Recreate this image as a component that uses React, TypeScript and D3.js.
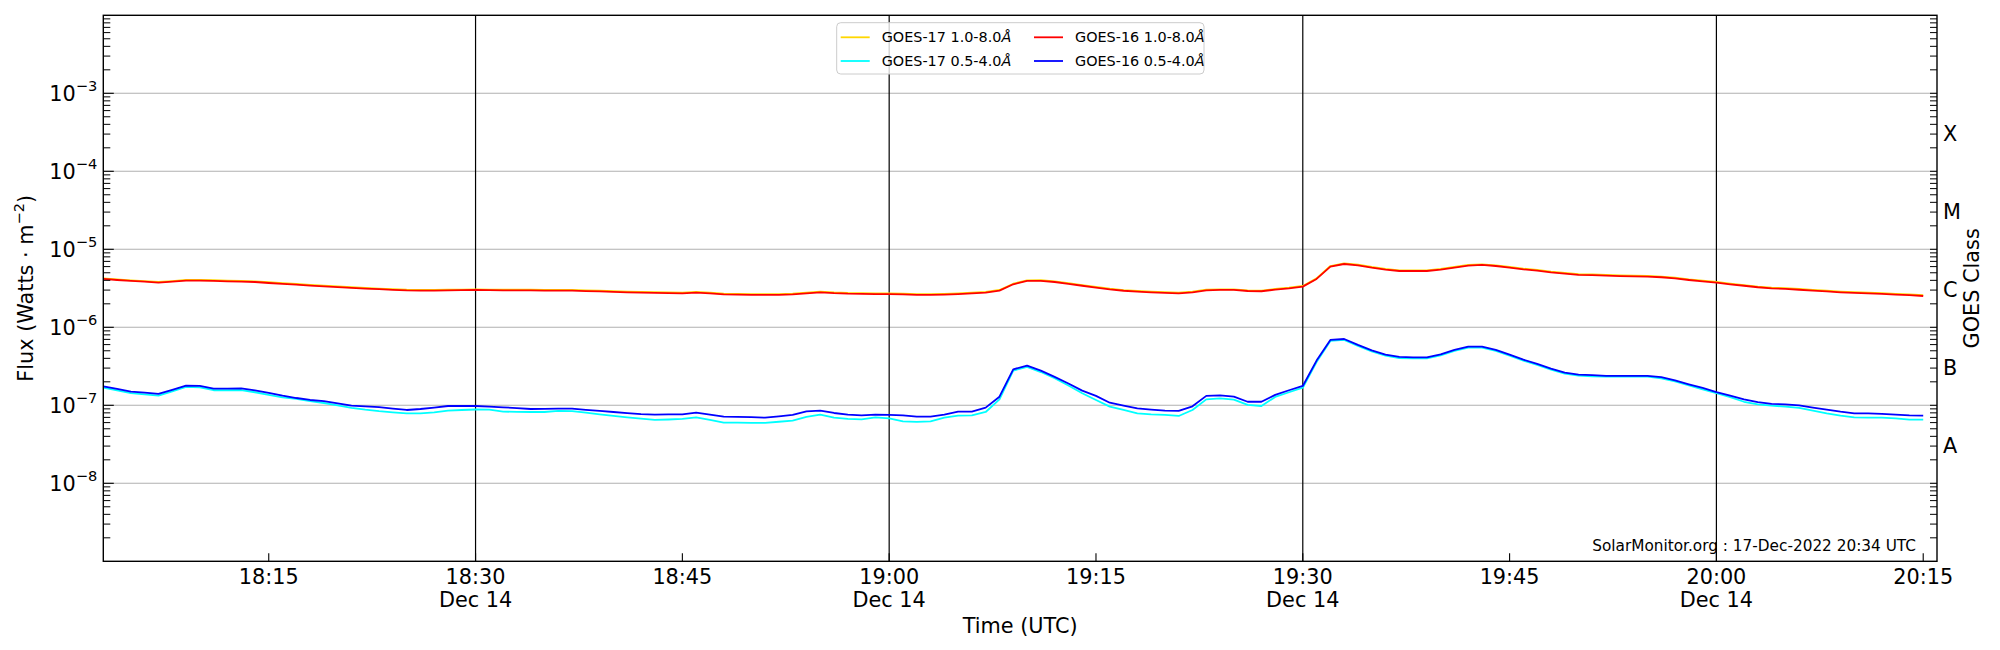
import React from "react";
import * as d3 from "d3";

// ---- data (1-minute cadence, 14 Dec 2022, starting 18:03 UTC) ----
const startTime = Date.UTC(2022, 11, 14, 18, 3);
const stepMinutes = 1;

// GOES-16 1.0-8.0 Å (W m^-2)
const goes16Long = [
  4.17e-6, 4.04e-6, 3.93e-6, 3.85e-6, 3.74e-6, 3.85e-6, 3.97e-6, 3.97e-6, 3.93e-6, 3.89e-6,
  3.85e-6, 3.81e-6, 3.70e-6, 3.61e-6, 3.52e-6, 3.43e-6, 3.35e-6, 3.27e-6, 3.20e-6, 3.13e-6,
  3.08e-6, 3.02e-6, 2.97e-6, 2.95e-6, 2.95e-6, 2.97e-6, 2.99e-6, 3.01e-6, 2.99e-6, 2.98e-6,
  2.97e-6, 2.97e-6, 2.96e-6, 2.96e-6, 2.95e-6, 2.91e-6, 2.88e-6, 2.84e-6, 2.81e-6, 2.78e-6,
  2.76e-6, 2.74e-6, 2.73e-6, 2.78e-6, 2.73e-6, 2.65e-6, 2.62e-6, 2.61e-6, 2.61e-6, 2.60e-6,
  2.64e-6, 2.73e-6, 2.81e-6, 2.74e-6, 2.70e-6, 2.69e-6, 2.67e-6, 2.67e-6, 2.65e-6, 2.61e-6,
  2.61e-6, 2.63e-6, 2.67e-6, 2.73e-6, 2.78e-6, 2.95e-6, 3.56e-6, 3.93e-6, 3.93e-6, 3.81e-6,
  3.61e-6, 3.41e-6, 3.23e-6, 3.06e-6, 2.94e-6, 2.86e-6, 2.80e-6, 2.76e-6, 2.73e-6, 2.81e-6,
  2.98e-6, 3.01e-6, 3.01e-6, 2.92e-6, 2.90e-6, 3.04e-6, 3.16e-6, 3.32e-6, 4.17e-6, 6.00e-6,
  6.48e-6, 6.24e-6, 5.82e-6, 5.49e-6, 5.27e-6, 5.27e-6, 5.27e-6, 5.49e-6, 5.82e-6, 6.18e-6,
  6.30e-6, 6.11e-6, 5.82e-6, 5.54e-6, 5.33e-6, 5.07e-6, 4.88e-6, 4.69e-6, 4.67e-6, 4.60e-6,
  4.53e-6, 4.49e-6, 4.46e-6, 4.38e-6, 4.23e-6, 4.04e-6, 3.89e-6, 3.74e-6, 3.56e-6, 3.41e-6,
  3.26e-6, 3.16e-6, 3.10e-6, 3.03e-6, 2.95e-6, 2.88e-6, 2.81e-6, 2.76e-6, 2.73e-6, 2.69e-6,
  2.63e-6, 2.59e-6, 2.52e-6,
];

// GOES-17 1.0-8.0 Å
const goes17Long = [
  4.25e-6, 4.11e-6, 4.00e-6, 3.92e-6, 3.81e-6, 3.92e-6, 4.05e-6, 4.04e-6, 4.01e-6, 3.97e-6,
  3.93e-6, 3.89e-6, 3.78e-6, 3.68e-6, 3.59e-6, 3.50e-6, 3.42e-6, 3.34e-6, 3.26e-6, 3.19e-6,
  3.14e-6, 3.08e-6, 3.03e-6, 3.01e-6, 3.01e-6, 3.03e-6, 3.05e-6, 3.07e-6, 3.05e-6, 3.04e-6,
  3.03e-6, 3.03e-6, 3.02e-6, 3.02e-6, 3.01e-6, 2.97e-6, 2.94e-6, 2.90e-6, 2.87e-6, 2.84e-6,
  2.82e-6, 2.80e-6, 2.79e-6, 2.84e-6, 2.79e-6, 2.71e-6, 2.68e-6, 2.67e-6, 2.67e-6, 2.66e-6,
  2.70e-6, 2.79e-6, 2.87e-6, 2.80e-6, 2.76e-6, 2.75e-6, 2.73e-6, 2.73e-6, 2.71e-6, 2.67e-6,
  2.67e-6, 2.69e-6, 2.73e-6, 2.79e-6, 2.84e-6, 3.01e-6, 3.62e-6, 4.00e-6, 4.01e-6, 3.89e-6,
  3.69e-6, 3.48e-6, 3.30e-6, 3.13e-6, 3.00e-6, 2.92e-6, 2.86e-6, 2.82e-6, 2.79e-6, 2.87e-6,
  3.04e-6, 3.07e-6, 3.07e-6, 2.98e-6, 2.96e-6, 3.10e-6, 3.22e-6, 3.39e-6, 4.24e-6, 6.10e-6,
  6.60e-6, 6.36e-6, 5.93e-6, 5.60e-6, 5.38e-6, 5.38e-6, 5.38e-6, 5.60e-6, 5.93e-6, 6.30e-6,
  6.42e-6, 6.23e-6, 5.93e-6, 5.65e-6, 5.44e-6, 5.17e-6, 4.98e-6, 4.79e-6, 4.77e-6, 4.70e-6,
  4.63e-6, 4.58e-6, 4.55e-6, 4.47e-6, 4.32e-6, 4.12e-6, 3.97e-6, 3.82e-6, 3.63e-6, 3.48e-6,
  3.33e-6, 3.23e-6, 3.17e-6, 3.10e-6, 3.02e-6, 2.94e-6, 2.87e-6, 2.82e-6, 2.79e-6, 2.75e-6,
  2.69e-6, 2.65e-6, 2.58e-6,
];

// GOES-16 0.5-4.0 Å
const goes16Short = [
  1.75e-7, 1.62e-7, 1.50e-7, 1.45e-7, 1.40e-7, 1.58e-7, 1.79e-7, 1.77e-7, 1.64e-7, 1.64e-7,
  1.65e-7, 1.55e-7, 1.44e-7, 1.33e-7, 1.24e-7, 1.17e-7, 1.13e-7, 1.06e-7, 0.99e-7, 0.966e-7,
  0.947e-7, 0.906e-7, 0.871e-7, 0.897e-7, 0.934e-7, 0.98e-7, 0.98e-7, 0.98e-7, 0.961e-7, 0.943e-7,
  0.920e-7, 0.897e-7, 0.900e-7, 0.904e-7, 0.906e-7, 0.876e-7, 0.850e-7, 0.821e-7, 0.794e-7, 0.771e-7,
  0.759e-7, 0.763e-7, 0.767e-7, 0.805e-7, 0.759e-7, 0.716e-7, 0.711e-7, 0.704e-7, 0.695e-7, 0.723e-7,
  0.752e-7, 0.838e-7, 0.854e-7, 0.797e-7, 0.759e-7, 0.744e-7, 0.759e-7, 0.752e-7, 0.744e-7, 0.716e-7,
  0.716e-7, 0.759e-7, 0.829e-7, 0.829e-7, 0.934e-7, 1.29e-7, 2.89e-7, 3.23e-7, 2.78e-7, 2.31e-7,
  1.90e-7, 1.54e-7, 1.32e-7, 1.08e-7, 0.99e-7, 0.915e-7, 0.880e-7, 0.854e-7, 0.846e-7, 0.971e-7,
  1.32e-7, 1.34e-7, 1.29e-7, 1.11e-7, 1.11e-7, 1.36e-7, 1.56e-7, 1.77e-7, 3.74e-7, 6.88e-7,
  7.08e-7, 5.94e-7, 5.07e-7, 4.46e-7, 4.17e-7, 4.12e-7, 4.12e-7, 4.51e-7, 5.12e-7, 5.65e-7,
  5.65e-7, 5.12e-7, 4.46e-7, 3.85e-7, 3.39e-7, 2.95e-7, 2.62e-7, 2.47e-7, 2.43e-7, 2.39e-7,
  2.38e-7, 2.38e-7, 2.38e-7, 2.30e-7, 2.09e-7, 1.86e-7, 1.67e-7, 1.48e-7, 1.33e-7, 1.19e-7,
  1.10e-7, 1.04e-7, 1.03e-7, 0.998e-7, 0.934e-7, 0.880e-7, 0.829e-7, 0.790e-7, 0.786e-7, 0.778e-7,
  0.759e-7, 0.744e-7, 0.737e-7,
];

// GOES-17 0.5-4.0 Å
const goes17Short = [
  1.68e-7, 1.55e-7, 1.43e-7, 1.38e-7, 1.33e-7, 1.51e-7, 1.72e-7, 1.70e-7, 1.56e-7, 1.56e-7,
  1.57e-7, 1.47e-7, 1.36e-7, 1.26e-7, 1.21e-7, 1.13e-7, 1.07e-7, 1.00e-7, 0.929e-7, 0.880e-7,
  0.842e-7, 0.813e-7, 0.790e-7, 0.790e-7, 0.810e-7, 0.855e-7, 0.871e-7, 0.884e-7, 0.880e-7, 0.829e-7,
  0.825e-7, 0.821e-7, 0.821e-7, 0.850e-7, 0.842e-7, 0.805e-7, 0.767e-7, 0.734e-7, 0.702e-7, 0.675e-7,
  0.649e-7, 0.658e-7, 0.668e-7, 0.700e-7, 0.649e-7, 0.600e-7, 0.598e-7, 0.596e-7, 0.594e-7, 0.615e-7,
  0.636e-7, 0.709e-7, 0.759e-7, 0.695e-7, 0.668e-7, 0.661e-7, 0.702e-7, 0.681e-7, 0.624e-7, 0.612e-7,
  0.624e-7, 0.695e-7, 0.737e-7, 0.744e-7, 0.821e-7, 1.19e-7, 2.78e-7, 3.10e-7, 2.67e-7, 2.22e-7,
  1.79e-7, 1.43e-7, 1.17e-7, 0.961e-7, 0.871e-7, 0.790e-7, 0.767e-7, 0.752e-7, 0.730e-7, 0.871e-7,
  1.19e-7, 1.23e-7, 1.18e-7, 1.01e-7, 0.98e-7, 1.28e-7, 1.47e-7, 1.68e-7, 3.59e-7, 6.68e-7,
  6.88e-7, 5.77e-7, 4.92e-7, 4.33e-7, 4.04e-7, 4.00e-7, 4.00e-7, 4.37e-7, 4.97e-7, 5.49e-7,
  5.49e-7, 4.97e-7, 4.33e-7, 3.74e-7, 3.29e-7, 2.87e-7, 2.55e-7, 2.40e-7, 2.35e-7, 2.33e-7,
  2.33e-7, 2.33e-7, 2.33e-7, 2.22e-7, 2.03e-7, 1.80e-7, 1.60e-7, 1.43e-7, 1.27e-7, 1.11e-7,
  1.03e-7, 0.99e-7, 0.961e-7, 0.924e-7, 0.855e-7, 0.790e-7, 0.737e-7, 0.702e-7, 0.695e-7, 0.695e-7,
  0.681e-7, 0.655e-7, 0.655e-7,
];

const yMajorExps = [-8, -7, -6, -5, -4, -3];
const classLabels = ["A", "B", "C", "M", "X"];
const classValues = [3e-8, 3e-7, 3e-6, 3e-5, 3e-4];
const vLineTimes = [
  Date.UTC(2022, 11, 14, 18, 30),
  Date.UTC(2022, 11, 14, 19, 0),
  Date.UTC(2022, 11, 14, 19, 30),
  Date.UTC(2022, 11, 14, 20, 0),
];
const seriesNames = ["GOES-17 1.0-8.0", "GOES-17 0.5-4.0", "GOES-16 1.0-8.0", "GOES-16 0.5-4.0"];
const seriesColors = ["#ffd700", "#00ffff", "#ff0000", "#0000ff"];
const stampText = "SolarMonitor.org : 17-Dec-2022 20:34 UTC";

const W = 2000;
const H = 650;
const L = 103.3;
const R = 1937;
const T = 15.3;
const B = 561.3;
const FONT = "DejaVu Sans, Liberation Sans, sans-serif";
const FS = 20.8;
const FS_SUP = 14.6;

export default function App() {
  const x = d3
    .scaleUtc()
    .domain([new Date(Date.UTC(2022, 11, 14, 18, 3)), new Date(Date.UTC(2022, 11, 14, 20, 16))])
    .range([L, R]);
  const y = d3.scaleLog().domain([1e-9, 1e-2]).range([B, T]);

  const times = goes16Long.map((_, i) => new Date(startTime + i * stepMinutes * 60000));
  const line = d3
    .line<number>()
    .x((_, i) => x(times[i]))
    .y((d) => y(d));

  const allSeries = [goes17Long, goes17Short, goes16Long, goes16Short];

  const minorVals: number[] = [];
  for (let e = -9; e <= -3; e++) {
    for (let k = 2; k <= 9; k++) minorVals.push(k * Math.pow(10, e));
  }

  const xTicks = x
    .ticks(d3.utcMinute.every(15) as any)
    .filter((d) => d.getTime() >= Date.UTC(2022, 11, 14, 18, 15));
  const fmtTime = d3.utcFormat("%H:%M");
  const fmtDay = d3.utcFormat("%b %d");

  return (
    <svg
      width={W}
      height={H}
      viewBox={`0 0 ${W} ${H}`}
      style={{ position: "absolute", left: 0, top: 0, background: "#fff" }}
      fontFamily={FONT}
    >
      <defs>
        <clipPath id="plotClip">
          <rect x={L} y={T} width={R - L} height={B - T} />
        </clipPath>
      </defs>
      <rect x={0} y={0} width={W} height={H} fill="#fff" />

      {/* horizontal grid */}
      {yMajorExps.map((e) => (
        <line key={"g" + e} x1={L} x2={R} y1={y(Math.pow(10, e))} y2={y(Math.pow(10, e))} stroke="#b0b0b0" strokeWidth={1.1} />
      ))}

      {/* vertical markers */}
      {vLineTimes.map((t) => (
        <line key={"v" + t} x1={x(new Date(t))} x2={x(new Date(t))} y1={T} y2={B} stroke="#000" strokeWidth={1.2} />
      ))}

      {/* data */}
      <g clipPath="url(#plotClip)">
        {allSeries.map((s, i) => (
          <path key={"s" + i} d={line(s) || ""} fill="none" stroke={seriesColors[i]} strokeWidth={1.8} strokeLinejoin="round" />
        ))}
      </g>

      {/* spines */}
      <rect x={L} y={T} width={R - L} height={B - T} fill="none" stroke="#000" strokeWidth={1.4} />

      {/* left ticks */}
      {yMajorExps.map((e) => (
        <line key={"lt" + e} x1={L} x2={L + 10.5} y1={y(Math.pow(10, e))} y2={y(Math.pow(10, e))} stroke="#000" strokeWidth={1.1} />
      ))}
      {minorVals.map((v, i) => (
        <line key={"lm" + i} x1={L} x2={L + 7} y1={y(v)} y2={y(v)} stroke="#000" strokeWidth={1} />
      ))}
      {yMajorExps.map((e) => (
        <text key={"ll" + e} x={L - 6} y={y(Math.pow(10, e)) + 7.5} textAnchor="end" fontSize={FS} fill="#000">
          10
          <tspan fontSize={FS_SUP} dy={-9.5}>
            {"\u2212" + Math.abs(e)}
          </tspan>
        </text>
      ))}

      {/* right ticks + GOES classes */}
      {minorVals.map((v, i) => (
        <line key={"rm" + i} x1={R - 7} x2={R} y1={y(v)} y2={y(v)} stroke="#000" strokeWidth={1} />
      ))}
      {yMajorExps.map((e) => (
        <line key={"rt" + e} x1={R - 7} x2={R} y1={y(Math.pow(10, e))} y2={y(Math.pow(10, e))} stroke="#000" strokeWidth={1} />
      ))}
      {classValues.map((v, i) => (
        <text key={"cl" + i} x={R + 6} y={y(v)} dominantBaseline="central" fontSize={FS} fill="#000">
          {classLabels[i]}
        </text>
      ))}

      {/* bottom ticks */}
      {xTicks.map((d) => (
        <g key={"xt" + d.getTime()}>
          <line x1={x(d)} x2={x(d)} y1={B} y2={B - 8} stroke="#000" strokeWidth={1.1} />
          <text x={x(d)} y={584} textAnchor="middle" fontSize={FS} fill="#000">
            {fmtTime(d)}
          </text>
          {d.getUTCMinutes() % 30 === 0 && (
            <text x={x(d)} y={607} textAnchor="middle" fontSize={FS} fill="#000">
              {fmtDay(d)}
            </text>
          )}
        </g>
      ))}

      {/* axis labels */}
      <text x={(L + R) / 2} y={633} textAnchor="middle" fontSize={FS} fill="#000">
        Time (UTC)
      </text>
      <text
        transform={`translate(26, ${(T + B) / 2}) rotate(-90)`}
        textAnchor="middle"
        dominantBaseline="central"
        fontSize={FS}
        fill="#000"
      >
        Flux (Watts · m
        <tspan fontSize={FS_SUP} dy={-8.5}>
          {"\u22122"}
        </tspan>
        <tspan dy={8.5}>)</tspan>
      </text>
      <text
        transform={`translate(1972, ${(T + B) / 2}) rotate(-90)`}
        textAnchor="middle"
        dominantBaseline="central"
        fontSize={FS}
        fill="#000"
      >
        GOES Class
      </text>

      {/* legend */}
      <g>
        <rect x={836.7} y={22.7} width={367.3} height={51.3} rx={4} ry={4} fill="#fff" fillOpacity={0.8} stroke="#cccccc" strokeWidth={1} />
        {seriesNames.map((n, i) => {
          const col = Math.floor(i / 2);
          const row = i % 2;
          const hx = col === 0 ? 840.7 : 1034;
          const ty = row === 0 ? 37.3 : 61;
          return (
            <g key={"lg" + i}>
              <line x1={hx} x2={hx + 29} y1={ty} y2={ty} stroke={seriesColors[i]} strokeWidth={1.8} />
              <text x={hx + 41} y={ty} dominantBaseline="central" fontSize={14.4} fill="#000">
                {n}
                <tspan fontStyle="italic">Å</tspan>
              </text>
            </g>
          );
        })}
      </g>

      {/* stamp */}
      <text x={1916} y={551} textAnchor="end" fontSize={15.3} fill="#000">
        {stampText}
      </text>
    </svg>
  );
}
